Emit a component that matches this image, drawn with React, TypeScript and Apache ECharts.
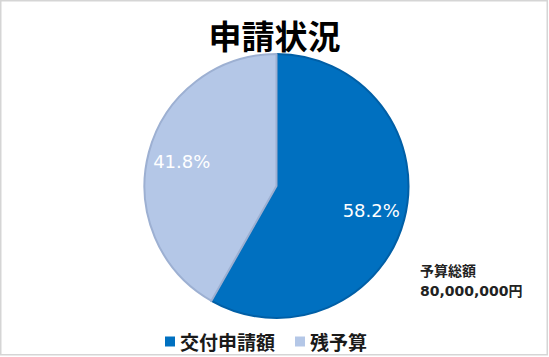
import React, { useEffect, useRef } from "react";
import * as echarts from "echarts";

const categories = ["交付申請額", "残予算"];
const shares = [58.2, 41.8];
const sliceColors = ["#0070C0", "#B4C7E7"];
const sliceBorders = ["#005FA6", "#9DB0D2"];
const titleText = "申請状況";
const noteLines = ["予算総額", "80,000,000円"];

export default function App() {
  const ref = useRef<HTMLDivElement>(null);
  useEffect(() => {
    if (!ref.current) return;
    const chart = echarts.init(ref.current, undefined, { renderer: "svg" });
    const data = categories.map((name, i) => ({
      name,
      value: shares[i],
      itemStyle: { color: sliceColors[i], borderColor: sliceBorders[i], borderWidth: 2 },
    }));
    const labelData = categories.map((name, i) => ({ name, value: shares[i] }));
    chart.setOption({
      animation: false,
      backgroundColor: "#ffffff",
      title: {
        text: titleText,
        left: "center",
        top: 13,
        textStyle: {
          fontFamily: "'Noto Sans CJK JP'",
          fontWeight: "bold",
          fontSize: 33,
          color: "#000000",
        },
      },
      legend: {
        left: 160,
        top: 327,
        icon: "rect",
        itemWidth: 10,
        itemHeight: 10,
        itemGap: 20,
        data: categories.map((name, i) => ({ name, itemStyle: { color: sliceColors[i], borderWidth: 0 } })),
        textStyle: {
          fontFamily: "'Noto Sans CJK JP'",
          fontWeight: "bold",
          fontSize: 19,
          color: "#1a1a1a",
        },
      },
      series: [
        {
          type: "pie",
          center: [276.5, 186],
          radius: [0, 132],
          startAngle: 90,
          clockwise: true,
          label: { show: false },
          labelLine: { show: false },
          emphasis: { disabled: true },
          data,
        },
        {
          type: "pie",
          center: [276.5, 186],
          radius: [0, 190],
          startAngle: 90,
          clockwise: true,
          silent: true,
          itemStyle: { color: "rgba(0,0,0,0)", borderWidth: 0 },
          label: {
            show: true,
            position: "inside",
            formatter: (p: any) => p.value.toFixed(1) + "%",
            color: "#ffffff",
            fontFamily: "'DejaVu Sans'",
            fontSize: 18,
          },
          labelLine: { show: false },
          emphasis: { disabled: true },
          data: labelData,
        },
      ],
      graphic: [
        {
          type: "rect",
          shape: { x: 0.75, y: 0.75, width: 546.5, height: 354 },
          style: { fill: "none", stroke: "#D5D5D5", lineWidth: 1.5 },
          silent: true,
        },
        {
          type: "text",
          left: 420,
          top: 263,
          style: {
            text: noteLines[0],
            font: "bold 14px 'Noto Sans CJK JP'",
            fill: "#222222",
          },
        },
        {
          type: "text",
          left: 420,
          top: 284,
          style: {
            text: noteLines[1],
            font: "bold 14px 'DejaVu Sans', 'Noto Sans CJK JP'",
            fill: "#222222",
          },
        },
      ],
    });
    return () => chart.dispose();
  }, []);
  return (
    <div
      ref={ref}
      style={{ position: "fixed", left: 0, top: 0, width: 549, height: 357, background: "#fff" }}
    />
  );
}
